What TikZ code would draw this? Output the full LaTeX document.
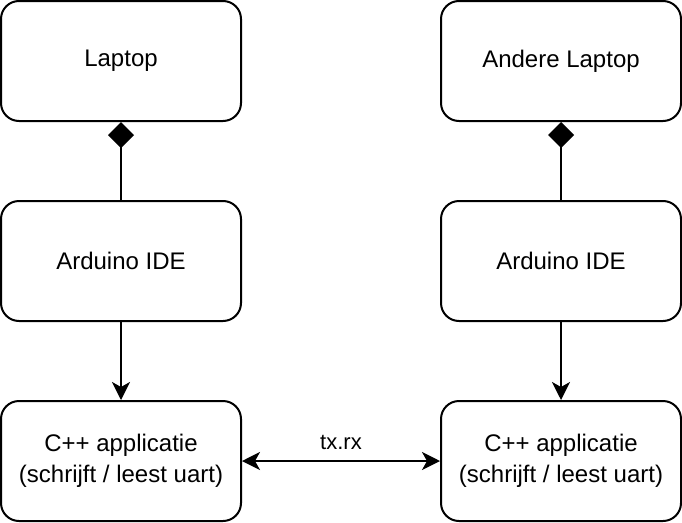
\documentclass[tikz,border=0pt]{standalone}
\usepackage{fontspec}
\setmainfont{Liberation Sans}
\usetikzlibrary{arrows.meta}
\begin{document}
\begin{tikzpicture}[x=1pt,y=-1pt,
  box/.style={draw=black,line width=2pt,rounded corners=18pt,minimum width=240pt,minimum height=120pt,inner sep=0pt,align=center,font=\fontsize{24pt}{31pt}\selectfont,fill=white},
  conn/.style={line width=2pt,draw=black},
  arr/.style={-{Stealth[length=18pt,width=18pt,inset=5pt]}},
  dia/.style={{Diamond[length=26pt,width=26pt]}-}
]
\useasboundingbox (0,0) rectangle (682,522);
\node[box] (l1) at (121,61) {Laptop};
\node[box] (l2) at (561,61) {Andere Laptop};
\node[box] (a1) at (121,261) {Arduino IDE};
\node[box] (a2) at (561,261) {Arduino IDE};
\node[box] (c1) at (121,461) {C++ applicatie\\(schrijft / leest uart)};
\node[box] (c2) at (561,461) {C++ applicatie\\(schrijft / leest uart)};
\draw[conn,dia] (l1.south) -- (a1.north);
\draw[conn,dia] (l2.south) -- (a2.north);
\draw[conn,arr] (a1.south) -- (c1.north);
\draw[conn,arr] (a2.south) -- (c2.north);
\draw[conn,{Stealth[length=18pt,width=18pt,inset=5pt]}-{Stealth[length=18pt,width=18pt,inset=5pt]}] (c1.east) -- node[above=7pt,font=\fontsize{22pt}{26pt}\selectfont] (lbl) {tx.rx} (c2.west);
\end{tikzpicture}
\end{document}
